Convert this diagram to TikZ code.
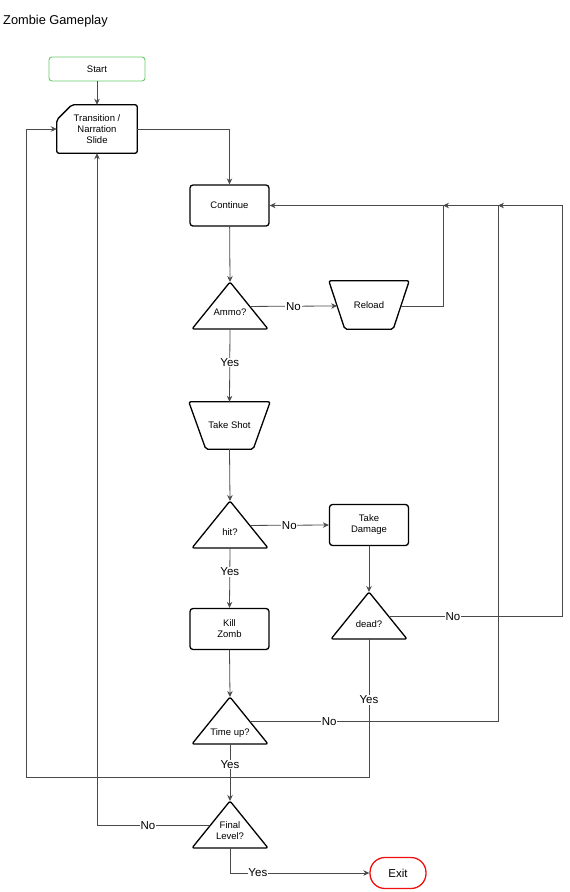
\documentclass[tikz,border=0pt]{standalone}
\usepackage{fontspec}
\setmainfont{Liberation Sans}
\usetikzlibrary{arrows.meta,calc}
\definecolor{conncol}{HTML}{4A4A4A}
\definecolor{startgreen}{HTML}{66CC66}
\definecolor{exitred}{HTML}{EE1111}
\tikzset{
  box/.style={draw=black, line width=1.3pt, rounded corners=3pt, minimum width=79pt, minimum height=41pt, inner sep=0pt, align=center, font=\fontsize{9.5}{11}\selectfont},
  shapeline/.style={draw=black, line width=1.3pt, rounded corners=2pt, line join=round},
  txt/.style={inner sep=0pt, align=center, font=\fontsize{9.5}{11}\selectfont},
  conn/.style={draw=conncol, line width=0.8pt},
  arr/.style={conn, -{Stealth[length=6pt,width=5.5pt]}},
  lbl/.style={fill=white, inner sep=0.8pt, font=\fontsize{11.5}{13}\selectfont, text=black},
}
\newcommand{\zdecision}[5]{% name, cx, apex y, text y, text
  \coordinate (#1-top) at (#2,#3);
  \coordinate (#1-br) at ([shift={(38,47)}]#1-top);
  \coordinate (#1-bl) at ([shift={(-38,47)}]#1-top);
  \coordinate (#1-bot) at ([shift={(0,47)}]#1-top);
  \coordinate (#1-r) at ($(#1-top)!0.52!(#1-br)$);
  \coordinate (#1-l) at ($(#1-top)!0.52!(#1-bl)$);
  \draw[shapeline] (#1-top) -- (#1-br) -- (#1-bl) -- cycle;
  \node[txt] (#1) at (#2,#4) {#5};
}
\begin{document}
\begin{tikzpicture}[x=1pt,y=-1pt]
\useasboundingbox (0,0) rectangle (570,892);

\node[anchor=west, inner sep=0pt, font=\fontsize{12.8}{14}\selectfont] (title) at (3,21) {Zombie Gameplay};

% nodes
\node[draw=startgreen, line width=0.9pt, rounded corners=3pt, minimum width=96pt, minimum height=24pt, txt] (start) at (97,69) {Start};

\node[txt, minimum width=80pt, minimum height=48pt] (trans) at (97,129) {Transition /\\Narration\\Slide};
\draw[shapeline] ([xshift=15pt]trans.north west) -- (trans.north east) -- (trans.south east) -- (trans.south west) -- ([yshift=-15pt]trans.north west) -- cycle;

\node[box] (cont) at (229.5,205.5) {Continue};

\zdecision{ammo}{230}{282}{312}{Ammo?}

\node[txt, minimum width=80pt, minimum height=48pt] (reload) at (369,305) {Reload};
\draw[shapeline] (reload.north west) -- (reload.north east) -- ([xshift=-16pt]reload.south east) -- ([xshift=16pt]reload.south west) -- cycle;
\coordinate (reload-l) at ($(reload.north west)!0.52!([xshift=16pt]reload.south west)$);
\coordinate (reload-r) at ($(reload.north east)!0.52!([xshift=-16pt]reload.south east)$);

\node[txt, minimum width=81pt, minimum height=47pt] (shot) at (229.5,425.5) {Take Shot};
\draw[shapeline] (shot.north west) -- (shot.north east) -- ([xshift=-17pt]shot.south east) -- ([xshift=17pt]shot.south west) -- cycle;

\zdecision{hit}{230}{501}{532}{hit?}

\node[box] (dmg) at (369,525) {Take\\Damage};

\node[box] (kill) at (229.5,629) {Kill\\Zomb};

\zdecision{dead}{369}{592}{624}{dead?}

\zdecision{timeup}{230}{697}{733}{Time up?}

\zdecision{final}{230}{801}{831}{Final\\Level?}

\node[draw=exitred, line width=1.3pt, rounded corners=15pt, minimum width=56pt, minimum height=31pt, inner sep=0pt, font=\fontsize{11.5}{13}\selectfont] (exit) at (398,873) {Exit};

% junctions
\coordinate (j1) at (443,205.5);
\coordinate (j2) at (498,205.5);
\coordinate (j3) at (562,205.5);
\coordinate (j4) at (26,777);

% connectors
\draw[arr] (start) -- (trans);
\draw[arr] (trans.east) -| (cont.north);
\draw[arr] (cont) -- (ammo-top);
\draw[arr] (ammo-r) -- node[lbl]{No} (reload-l);
\draw[arr] (reload-r) -| (j1) -- (cont.east);
\draw[arr] (ammo-bot) -- node[lbl, pos=0.46]{Yes} (shot.north);
\draw[arr] (shot.south) -- (hit-top);
\draw[arr] (hit-r) -- node[lbl]{No} (dmg.west);
\draw[arr] (hit-bot) -- node[lbl, pos=0.4]{Yes} (kill.north);
\draw[arr] (dmg.south) -- (dead-top);
\draw[arr] (dead-r) -- node[lbl, pos=0.37]{No} (dead-r -| j3) -- (j3) -- (j2);
\draw[arr] (kill.south) -- (timeup-top);
\draw[arr] (timeup-r) -- node[lbl, pos=0.32]{No} (timeup-r -| j2) -- (j2) -- (j1);
\draw[arr] (timeup-bot) -- node[lbl, pos=0.36]{Yes} (final-top);
\draw[arr] (dead-bot) -- node[lbl, pos=0.44]{Yes} (dead-bot |- j4) -- (j4) -- (j4 |- trans.west) -- (trans.west);
\draw[arr] (final-l) -- node[lbl, pos=0.55]{No} (final-l -| trans.south) -- (trans.south);
\draw[arr] (final-bot) |- node[lbl, pos=0.6]{Yes} (exit.west);
\end{tikzpicture}
\end{document}
